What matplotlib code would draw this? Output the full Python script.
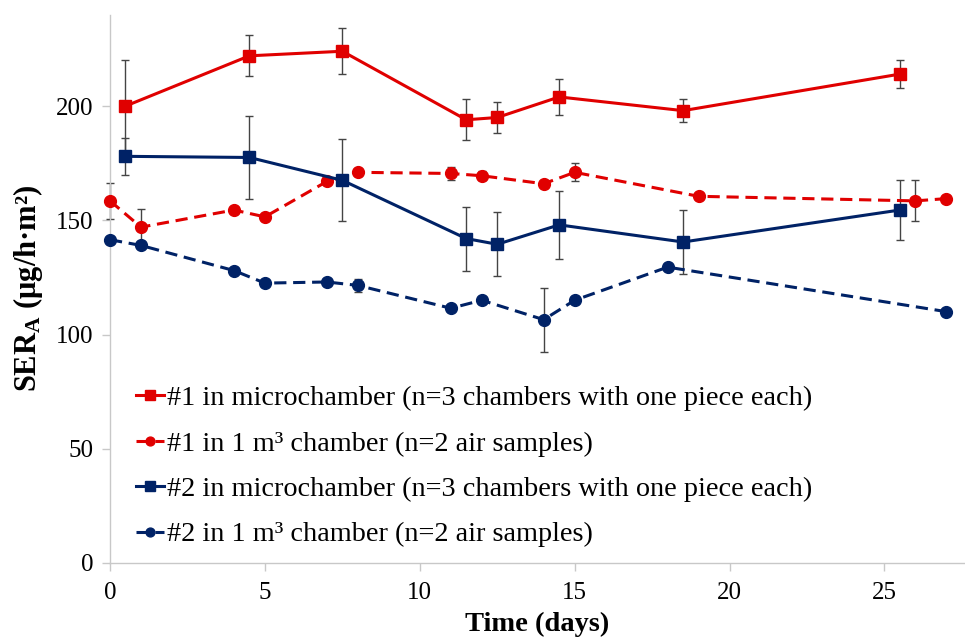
import matplotlib
matplotlib.use("Agg")
import matplotlib.pyplot as plt

plt.rcParams['font.family'] = ['Liberation Serif', 'DejaVu Serif']
plt.rcParams['mathtext.fontset'] = 'custom'
plt.rcParams['mathtext.rm'] = 'Liberation Serif'
plt.rcParams['mathtext.bf'] = 'Liberation Serif:bold'
plt.rcParams['mathtext.it'] = 'Liberation Serif:italic'

# #1 in microchamber
x_m1 = [0.5, 4.5, 7.5, 11.5, 12.5, 14.5, 18.5, 25.5]
y_m1 = [200, 222, 224, 194, 195, 204, 198, 214]
e_m1 = [20, 9, 10, 9, 7, 8, 5, 6]

# #1 in 1 m3 chamber
x_c1 = [0, 1, 4, 5, 7, 8, 11, 12, 14, 15, 19, 26, 27]
y_c1 = [158.5, 147, 154.5, 151.5, 167, 171, 170.5, 169.5, 166, 171, 160.5, 158.5, 159.5]
e_c1 = [8, 8, 0, 0, 0, 0, 3, 2, 0, 4, 0, 9, 0]

# #2 in microchamber
x_m2 = [0.5, 4.5, 7.5, 11.5, 12.5, 14.5, 18.5, 25.5]
y_m2 = [178, 177.5, 167.5, 142, 139.5, 148, 140.5, 154.5]
e_m2 = [8, 18, 18, 14, 14, 15, 14, 13]

# #2 in 1 m3 chamber
x_c2 = [0, 1, 4, 5, 7, 8, 11, 12, 14, 15, 18, 27]
y_c2 = [141.5, 139, 128, 122.5, 123, 121.5, 111.5, 115, 106.5, 115, 129.5, 110]
e_c2 = [0, 0, 0, 0, 0, 3, 0, 0, 14, 0, 0, 0]

labels = [
    "#1 in microchamber (n=3 chambers with one piece each)",
    "#1 in 1 m\u00b3 chamber (n=2 air samples)",
    "#2 in microchamber (n=3 chambers with one piece each)",
    "#2 in 1 m\u00b3 chamber (n=2 air samples)",
]
x_ticks = [0, 5, 10, 15, 20, 25]
y_ticks = [0, 50, 100, 150, 200]

RED = '#E00000'
NAVY = '#002266'
ECOL = '#444444'

fig = plt.figure(figsize=(9.65, 6.39), dpi=100)
ax = fig.add_axes([0.114, 0.119, 0.886, 0.858])

series = [
    (x_m1, y_m1, e_m1, RED, 's', '-', labels[0]),
    (x_c1, y_c1, e_c1, RED, 'o', (0, (4, 2.2)), labels[1]),
    (x_m2, y_m2, e_m2, NAVY, 's', '-', labels[2]),
    (x_c2, y_c2, e_c2, NAVY, 'o', (0, (4, 2.2)), labels[3]),
]
handles = []
for xs, ys, es, col, mk, ls, lab in series:
    _, caps, bars = ax.errorbar(xs, ys, yerr=es, fmt='none', ecolor=ECOL, elinewidth=1.0,
                                capsize=3, capthick=1.0, zorder=2)
    for c in caps:
        c.set_clip_on(False)
    for b in bars:
        b.set_clip_on(False)
    h, = ax.plot(xs, ys, color=col, marker=mk, linestyle=ls, linewidth=2.2,
                 markersize=9 if mk == 's' else 8.5, label=lab, zorder=3,
                 clip_on=False)
    handles.append(h)

ax.set_xlim(0, 27.6)
ax.set_ylim(0, 240)
ax.set_xticks(x_ticks)
ax.set_yticks(y_ticks)
for s in ['top', 'right']:
    ax.spines[s].set_visible(False)
for s in ['left', 'bottom']:
    ax.spines[s].set_color('#c8c8c8')
    ax.spines[s].set_linewidth(1.0)
ax.tick_params(axis='both', colors='#c8c8c8', labelcolor='black', labelsize=18,
               length=6, width=1.0, direction='out')
ax.tick_params(axis='x', pad=8)
ax.tick_params(axis='y', pad=6)
ax.set_xlabel('Time (days)', fontsize=20.5, fontweight='bold', labelpad=5)
ax.set_ylabel('SER$_\\mathbf{A}$ (\u03bcg/h\u00b7m\u00b2)',
              fontsize=22, fontweight='bold', labelpad=8)

leg = ax.legend(handles=handles, loc='lower left', bbox_to_anchor=(0.012, 0.0),
                frameon=False, fontsize=20.3, handlelength=1.0, handletextpad=0.1,
                labelspacing=0.7, borderaxespad=0.15, markerscale=0.75)

fig.savefig('out.png', dpi=100)
